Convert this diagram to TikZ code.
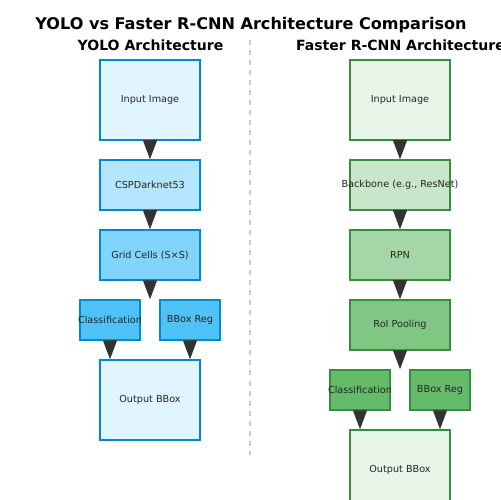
\documentclass[tikz,border=0pt]{standalone}
\usepackage{fontspec}
\setmainfont{DejaVu Sans}
\usepackage{xcolor}
\usetikzlibrary{positioning, arrows.meta}

\definecolor{yololine}{HTML}{0288D1}
\definecolor{yoloA}{HTML}{E1F5FE}
\definecolor{yoloB}{HTML}{B3E5FC}
\definecolor{yoloC}{HTML}{81D4FA}
\definecolor{yoloD}{HTML}{4FC3F7}
\definecolor{rcnnline}{HTML}{388E3C}
\definecolor{rcnnA}{HTML}{E8F5E9}
\definecolor{rcnnB}{HTML}{C8E6C9}
\definecolor{rcnnC}{HTML}{A5D6A7}
\definecolor{rcnnD}{HTML}{81C784}
\definecolor{rcnnE}{HTML}{66BB6A}
\definecolor{arrowgray}{HTML}{333333}
\definecolor{splitgray}{HTML}{CCCCCC}

\tikzset{
  blk/.style={draw, line width=0.85pt, inner sep=0pt, minimum width=2cm, minimum height=1cm,
    text=black!85, font=\fontsize{5.5}{6.6}\selectfont},
  yolo/.style={blk, draw=yololine},
  rcnn/.style={blk, draw=rcnnline},
  arr/.style={-{Triangle[length=0.38cm, width=0.28cm]}, line width=0.6pt, draw=arrowgray},
}

\begin{document}
\begin{tikzpicture}[x=0.02cm, y=-0.02cm, node distance=10.53pt]

      \clip (0, 0) rectangle (500, 500);
      \fill[white] (0, 0) rectangle (500, 500);

      % headings
      \node[font=\fontsize{9.15}{11}\selectfont\bfseries] (title) at (251, 25) {YOLO vs Faster R-CNN Architecture Comparison};
      \node[font=\fontsize{8.0}{9}\selectfont\bfseries] (head1) at (150.5, 45) {YOLO Architecture};
      \node[font=\fontsize{8.0}{9}\selectfont\bfseries] (head2) at (400.5, 45) {Faster R-CNN Architecture};

      \draw[splitgray, line width=1.1pt, dash pattern=on 2.85pt off 2.85pt] (250, 40) -- (250, 455);

      % YOLO
      \node[yolo, fill=yoloA, minimum height=1.6cm] (in1) at (150, 100) {Input Image};
      \node[yolo, fill=yoloB, below=of in1] (csp) {CSPDarknet53};
      \node[yolo, fill=yoloC, below=of csp] (grid) {Grid Cells (S×S)};
      \node[yolo, fill=yoloD, minimum width=1.2cm, minimum height=0.8cm] (cls1) at (110, 320) {\makebox[0pt]{Classification}};
      \node[yolo, fill=yoloD, minimum width=1.2cm, minimum height=0.8cm] (reg1) at (190, 320) {BBox Reg};
      \node[yolo, fill=yoloA, minimum height=1.6cm] (out1) at (150, 400) {Output BBox};

      \coordinate (split1) at (grid.south |- cls1.north);

      \draw[arr] (in1.south) -- (csp.north);
      \draw[arr] (csp.south) -- (grid.north);
      \draw[arr] (grid.south) -- (split1);
      \draw[arr] (cls1.south) -- (cls1.south |- out1.north);
      \draw[arr] (reg1.south) -- (reg1.south |- out1.north);

      % Faster R-CNN
      \node[rcnn, fill=rcnnA, minimum height=1.6cm] (in2) at (400, 100) {Input Image};
      \node[rcnn, fill=rcnnB, below=of in2] (bb) {\makebox[0pt]{Backbone (e.g., ResNet)}};
      \node[rcnn, fill=rcnnC, below=of bb] (rpn) {RPN};
      \node[rcnn, fill=rcnnD, below=of rpn] (roi) {RoI Pooling};
      \node[rcnn, fill=rcnnE, minimum width=1.2cm, minimum height=0.8cm] (cls2) at (360, 390) {\makebox[0pt]{Classification}};
      \node[rcnn, fill=rcnnE, minimum width=1.2cm, minimum height=0.8cm] (reg2) at (440, 390) {BBox Reg};
      \node[rcnn, fill=rcnnA, minimum height=1.6cm] (out2) at (400, 470) {Output BBox};

      \coordinate (split2) at (roi.south |- cls2.north);

      \draw[arr] (in2.south) -- (bb.north);
      \draw[arr] (bb.south) -- (rpn.north);
      \draw[arr] (rpn.south) -- (roi.north);
      \draw[arr] (roi.south) -- (split2);
      \draw[arr] (cls2.south) -- (cls2.south |- out2.north);
      \draw[arr] (reg2.south) -- (reg2.south |- out2.north);

\end{tikzpicture}
\end{document}
